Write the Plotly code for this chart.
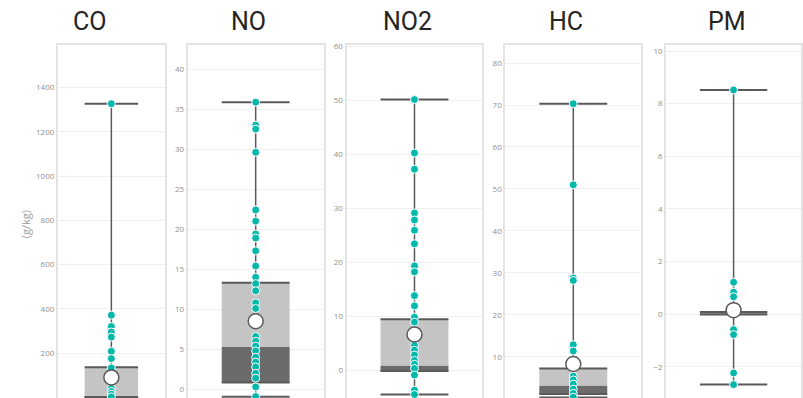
import plotly.graph_objects as go

# ---------------- data ----------------
pollutants = ["CO", "NO", "NO2", "HC", "PM"]

co_points = [1327, 372, 321, 296, 273, 209, 176, 134, 42, 27, 15, 3]
no_points = [35.86, 33.0, 32.5, 29.6, 22.4, 21.0, 19.4, 18.9, 17.3, 15.4, 14.0, 13.2,
             12.3, 10.8, 10.1, 6.6, 6.0, 5.4, 4.8, 4.0, 3.4, 2.8, 2.0, 1.4, 0.3, -0.9]
no2_points = [50.1, 40.2, 37.2, 29.1, 27.8, 25.9, 23.4, 19.3, 18.2, 13.8, 11.9, 9.8,
              8.9, 4.6, 3.7, 2.8, 1.8, 1.1, 0.3, -0.9, -3.7, -4.5]
hc_points = [70.3, 51.0, 28.8, 28.2, 12.9, 11.4, 5.4, 4.5, 3.5, 2.3, 1.3, 0.4]
pm_points = [8.52, 1.21, 0.83, 0.66, -0.59, -0.78, -2.24, -2.68]
points = [co_points, no_points, no2_points, hc_points, pm_points]

minimum = [1, -0.92, -4.5, 0.3, -2.68]
q1 = [3, 0.87, -0.15, 1.15, -0.02]
median = [8, 5.3, 0.85, 3.2, 0.03]
q3 = [137, 13.3, 9.45, 7.25, 0.08]
maximum = [1327, 35.86, 50.1, 70.3, 8.52]
mean = [91, 8.5, 6.6, 8.3, 0.15]

y_ranges = [[-2, 1592], [-1.08, 43.0], [-5.15, 60.2], [0.2, 84.3], [-3.19, 10.23]]
y_dticks = [200, 5, 10, 10, 2]
unit_label = "(g/kg)"

# ---------------- layout geometry (pixels) ----------------
W, H = 803, 398
panel_px = [(58, 165), (188, 324), (347, 483), (506, 642), (667, 802)]
title_px = [90, 249, 408, 567, 728]
plot_top_px = 40.5
title_y_px = 17
BOX_HALF = 0.5

TEAL = "#01B8AA"
LINE = "#5a5a5a"
LIGHT = "#c4c4c4"
DARK = "#6b6b6b"

fig = go.Figure()
layout = dict(
    width=W, height=H,
    margin=dict(l=0, r=0, t=0, b=0),
    paper_bgcolor="white", plot_bgcolor="white",
    showlegend=False,
    annotations=[],
)

ytop = (H - plot_top_px) / H

for i, name in enumerate(pollutants):
    n = i + 1
    xa = "x" if n == 1 else f"x{n}"
    ya = "y" if n == 1 else f"y{n}"
    common = dict(xaxis=xa, yaxis=ya, hoverinfo="skip", showlegend=False)

    # whisker
    fig.add_trace(go.Scatter(x=[0, 0], y=[minimum[i], maximum[i]], mode="lines",
                             line=dict(color=LINE, width=1.5), **common))
    # caps
    for v in (minimum[i], maximum[i]):
        fig.add_trace(go.Scatter(x=[-BOX_HALF, BOX_HALF], y=[v, v], mode="lines",
                                 line=dict(color=LINE, width=2), **common))
    # lower box (q1 - median), dark
    fig.add_trace(go.Scatter(x=[-BOX_HALF, BOX_HALF, BOX_HALF, -BOX_HALF, -BOX_HALF],
                             y=[q1[i], q1[i], median[i], median[i], q1[i]],
                             mode="lines", fill="toself", fillcolor=DARK,
                             line=dict(width=0, color=DARK), **common))
    # upper box (median - q3), light
    fig.add_trace(go.Scatter(x=[-BOX_HALF, BOX_HALF, BOX_HALF, -BOX_HALF, -BOX_HALF],
                             y=[median[i], median[i], q3[i], q3[i], median[i]],
                             mode="lines", fill="toself", fillcolor=LIGHT,
                             line=dict(width=0, color=LIGHT), **common))
    # box edges
    for v in (q1[i], q3[i]):
        fig.add_trace(go.Scatter(x=[-BOX_HALF, BOX_HALF], y=[v, v], mode="lines",
                                 line=dict(color=LINE, width=2), **common))
    # points
    pts = points[i]
    fig.add_trace(go.Scatter(x=[0] * len(pts), y=pts, mode="markers",
                             marker=dict(color=TEAL, size=8, line=dict(color="white", width=1)),
                             **common))
    # mean
    fig.add_trace(go.Scatter(x=[0], y=[mean[i]], mode="markers",
                             marker=dict(color="white", size=15, line=dict(color=LINE, width=1.5)),
                             **common))

    x0, x1 = panel_px[i]
    layout["xaxis" if n == 1 else f"xaxis{n}"] = dict(
        domain=[x0 / W, x1 / W], range=[-1, 1], anchor=ya,
        showgrid=False, zeroline=False, showticklabels=False,
        showline=True, mirror=True, linecolor="#e4e4e4", linewidth=2, fixedrange=True,
    )
    layout["yaxis" if n == 1 else f"yaxis{n}"] = dict(
        domain=[0, ytop], range=y_ranges[i], anchor=xa, dtick=y_dticks[i],
        showgrid=True, gridcolor="#f0f0f0", gridwidth=1, zeroline=False,
        showline=True, mirror=True, linecolor="#e4e4e4", linewidth=2,
        tickfont=dict(family="Open Sans, DejaVu Sans, sans-serif", size=8, color="#8f8f8f"),
        ticks="", fixedrange=True,
    )
    layout["annotations"].append(dict(
        x=title_px[i] / W, y=(H - title_y_px) / H, xref="paper", yref="paper",
        text=name, showarrow=False, xanchor="center", yanchor="middle",
        font=dict(family="Roboto, DejaVu Sans, sans-serif", size=25, color="#252423"),
    ))

layout["annotations"].append(dict(
    x=25 / W, y=(H - 222) / H, xref="paper", yref="paper", text=unit_label,
    textangle=-90, showarrow=False, xanchor="center", yanchor="middle",
    font=dict(family="Open Sans, DejaVu Sans, sans-serif", size=11, color="#a0a0a0"),
))

fig.update_layout(**layout)

pin_script = (
    "document.documentElement.style.margin='0';"
    "document.body.style.margin='0';document.body.style.padding='0';"
    "document.body.style.overflow='hidden';"
    "var gd=document.getElementById('{plot_id}');"
    "gd.style.position='fixed';gd.style.left='0px';gd.style.top='0px';"
)
fig.write_html("out.html", post_script=pin_script, config={"displayModeBar": False})
